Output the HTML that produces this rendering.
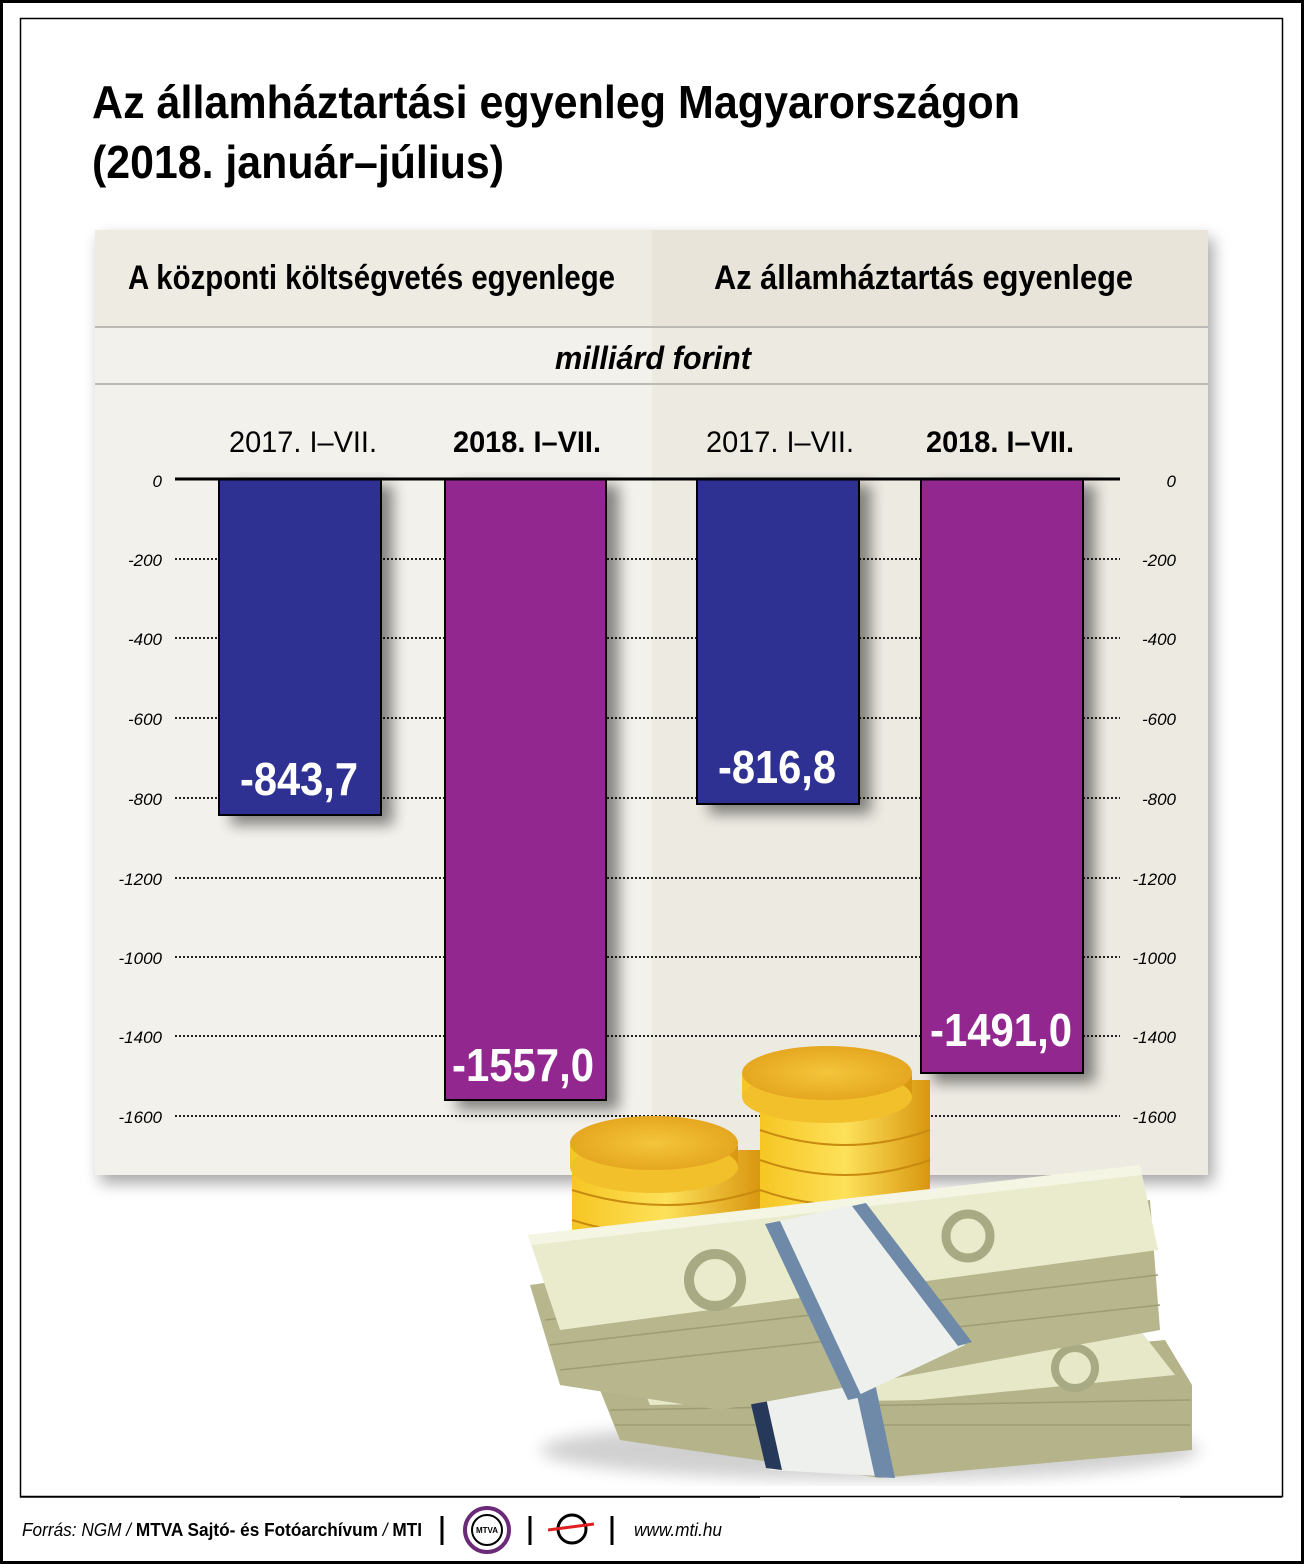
<!DOCTYPE html>
<html><head><meta charset="utf-8"><style>
html,body{margin:0;padding:0;background:#fff}
svg{display:block}
text{font-family:"Liberation Sans",Arial,sans-serif}
</style></head><body>
<svg width="1304" height="1564" viewBox="0 0 1304 1564" xmlns="http://www.w3.org/2000/svg">
<defs>
<filter id="sh" x="-10%" y="-10%" width="120%" height="120%"><feGaussianBlur stdDeviation="8"/></filter>
<filter id="bs" x="-30%" y="-10%" width="160%" height="130%"><feGaussianBlur stdDeviation="7"/></filter>
<linearGradient id="gold" x1="0" y1="0" x2="1" y2="0"><stop offset="0" stop-color="#f6c623"/><stop offset="0.5" stop-color="#fde15a"/><stop offset="1" stop-color="#d9960f"/></linearGradient>
<radialGradient id="gtop" cx="0.5" cy="0.5" r="0.6"><stop offset="0" stop-color="#f4c53a"/><stop offset="1" stop-color="#e2a11b"/></radialGradient>
</defs>
<rect x="1.5" y="1.5" width="1301" height="1561" fill="#fff" stroke="#000" stroke-width="3"/>
<rect x="20.5" y="18.5" width="1262" height="1478" fill="#fff" stroke="#000" stroke-width="1.5"/>
<text x="92" y="118" font-size="46" font-weight="bold" textLength="928" lengthAdjust="spacingAndGlyphs">Az államháztartási egyenleg Magyarországon</text>
<text x="92" y="178" font-size="46" font-weight="bold" textLength="412" lengthAdjust="spacingAndGlyphs">(2018. január–július)</text>
<rect x="100" y="238" width="1113" height="945" fill="#000" opacity="0.35" filter="url(#sh)"/>
<rect x="95" y="230" width="557" height="945" fill="#f3f1eb"/>
<rect x="652" y="230" width="556" height="945" fill="#edeae2"/>
<rect x="95" y="230" width="1113" height="97" fill="#eeebe3"/>
<rect x="652" y="230" width="556" height="97" fill="#e8e4da"/>
<line x1="95" y1="327" x2="1208" y2="327" stroke="#bcbab4" stroke-width="2"/>
<line x1="95" y1="384" x2="1208" y2="384" stroke="#bcbab4" stroke-width="2"/>
<text x="128" y="289" font-size="34" font-weight="bold" textLength="487" lengthAdjust="spacingAndGlyphs">A központi költségvetés egyenlege</text>
<text x="714" y="289" font-size="34" font-weight="bold" textLength="419" lengthAdjust="spacingAndGlyphs">Az államháztartás egyenlege</text>
<text x="555" y="369" font-size="32" font-weight="bold" font-style="italic" textLength="196" lengthAdjust="spacingAndGlyphs">milliárd forint</text>
<g font-size="30">
<text x="229" y="452" textLength="148" lengthAdjust="spacingAndGlyphs">2017. I–VII.</text>
<text x="453" y="452" font-weight="bold" textLength="148" lengthAdjust="spacingAndGlyphs">2018. I–VII.</text>
<text x="706" y="452" textLength="148" lengthAdjust="spacingAndGlyphs">2017. I–VII.</text>
<text x="926" y="452" font-weight="bold" textLength="148" lengthAdjust="spacingAndGlyphs">2018. I–VII.</text>
</g>
<g stroke="#222" stroke-width="2" stroke-dasharray="2,2">
<line x1="175" y1="559" x2="1120" y2="559"/><line x1="175" y1="638" x2="1120" y2="638"/>
<line x1="175" y1="718" x2="1120" y2="718"/><line x1="175" y1="798" x2="1120" y2="798"/>
<line x1="175" y1="878" x2="1120" y2="878"/><line x1="175" y1="957" x2="1120" y2="957"/>
<line x1="175" y1="1036" x2="1120" y2="1036"/><line x1="175" y1="1116" x2="1120" y2="1116"/>
</g>
<g font-size="17" font-style="italic" text-anchor="end">
<text x="162" y="487">0</text><text x="162" y="566">-200</text><text x="162" y="645">-400</text><text x="162" y="725">-600</text><text x="162" y="805">-800</text><text x="162" y="885">-1200</text><text x="162" y="964">-1000</text><text x="162" y="1043">-1400</text><text x="162" y="1123">-1600</text>
<text x="1176" y="487">0</text><text x="1176" y="566">-200</text><text x="1176" y="645">-400</text><text x="1176" y="725">-600</text><text x="1176" y="805">-800</text><text x="1176" y="885">-1200</text><text x="1176" y="964">-1000</text><text x="1176" y="1043">-1400</text><text x="1176" y="1123">-1600</text>
</g>
<g opacity="0.45" filter="url(#bs)" fill="#000">
<rect x="231" y="485" width="162" height="340"/><rect x="457" y="485" width="162" height="625"/>
<rect x="709" y="485" width="162" height="329"/><rect x="933" y="485" width="162" height="598"/>
</g>
<g stroke="#000" stroke-width="2">
<rect x="219" y="479" width="162" height="336" fill="#2e3192"/>
<rect x="445" y="479" width="161" height="621" fill="#92278f"/>
<rect x="697" y="479" width="162" height="325" fill="#2e3192"/>
<rect x="921" y="479" width="162" height="594" fill="#92278f"/>
</g>
<line x1="175" y1="479" x2="1120" y2="479" stroke="#000" stroke-width="3"/>
<g fill="#fff" font-size="46" font-weight="bold" text-anchor="middle">
<text x="299" y="795" textLength="118" lengthAdjust="spacingAndGlyphs">-843,7</text>
<text x="523" y="1081" textLength="142" lengthAdjust="spacingAndGlyphs">-1557,0</text>
<text x="777" y="783" textLength="118" lengthAdjust="spacingAndGlyphs">-816,8</text>
<text x="1001" y="1046" textLength="142" lengthAdjust="spacingAndGlyphs">-1491,0</text>
</g>
<!-- coins -->
<g>
<rect x="760" y="1080" width="170" height="170" fill="url(#gold)"/>
<ellipse cx="845" cy="1250" rx="85" ry="28" fill="#e8a81a"/>
<g fill="none" stroke="#c98a10" stroke-width="2"><path d="M760 1130 Q845 1160 930 1130"/><path d="M760 1160 Q845 1190 930 1160"/><path d="M760 1190 Q845 1220 930 1190"/><path d="M760 1220 Q845 1250 930 1220"/></g>
<rect x="742" y="1075" width="170" height="22" fill="url(#gold)"/>
<ellipse cx="827" cy="1097" rx="85" ry="26" fill="#f2c02b"/>
<ellipse cx="827" cy="1073" rx="85" ry="27" fill="url(#gtop)"/>
<rect x="572" y="1150" width="188" height="100" fill="url(#gold)"/>
<g fill="none" stroke="#c98a10" stroke-width="2"><path d="M572 1190 Q666 1220 760 1190"/><path d="M572 1220 Q666 1250 760 1220"/></g>
<rect x="570" y="1145" width="168" height="22" fill="url(#gold)"/>
<ellipse cx="654" cy="1167" rx="84" ry="26" fill="#f2c02b"/>
<ellipse cx="654" cy="1143" rx="84" ry="27" fill="url(#gtop)"/>
</g>
<!-- bills -->
<g>
<ellipse cx="870" cy="1450" rx="330" ry="30" fill="#000" opacity="0.18" filter="url(#sh)"/>
<!-- lower bundle -->
<polygon points="600,1390 1165,1340 1192,1385 1192,1450 880,1478 620,1440" fill="#b4b38a"/>
<g stroke="#9d9c74" stroke-width="1.5"><line x1="610" y1="1410" x2="1190" y2="1400"/><line x1="615" y1="1425" x2="1190" y2="1425"/></g>
<polygon points="640,1380 1140,1330 1175,1375 920,1400 650,1405" fill="#e6e8c8"/>
<circle cx="1075" cy="1368" r="20" fill="none" stroke="#a8aa84" stroke-width="8"/>
<polygon points="750,1400 860,1385 880,1476 770,1470" fill="#eef0ee"/>
<polygon points="750,1400 766,1398 782,1470 766,1468" fill="#27395a"/>
<polygon points="855,1386 875,1383 895,1478 875,1477" fill="#6f8aa8"/>
<!-- upper bundle -->
<polygon points="530,1285 1150,1200 1160,1330 720,1410 560,1385" fill="#b7b68c"/>
<g stroke="#9d9c74" stroke-width="1.5"><line x1="545" y1="1320" x2="1155" y2="1245"/><line x1="550" y1="1345" x2="1158" y2="1275"/><line x1="560" y1="1370" x2="1160" y2="1305"/></g>
<polygon points="528,1235 1140,1165 1158,1250 560,1330" fill="#e9ebcc"/>
<polygon points="528,1235 1140,1165 1142,1175 532,1245" fill="#f4f5e2"/>
<circle cx="715" cy="1280" r="26" fill="none" stroke="#a8aa84" stroke-width="10"/>
<circle cx="968" cy="1236" r="22" fill="none" stroke="#a8aa84" stroke-width="9"/>
<polygon points="765,1224 855,1205 965,1345 848,1400" fill="#eef0ee"/>
<polygon points="765,1224 780,1221 862,1397 848,1400" fill="#6f8aa8"/>
<polygon points="852,1206 866,1203 972,1342 958,1346" fill="#6f8aa8"/>
</g>
<line x1="20" y1="1497" x2="760" y2="1497" stroke="#000" stroke-width="1.5"/>
<line x1="1180" y1="1497" x2="1282" y2="1497" stroke="#000" stroke-width="1.5"/>
<text x="22" y="1536" font-size="18" textLength="400" lengthAdjust="spacingAndGlyphs"><tspan font-style="italic">Forrás: NGM / </tspan><tspan font-weight="bold">MTVA Sajtó- és Fotóarchívum</tspan><tspan font-style="italic"> / </tspan><tspan font-weight="bold">MTI</tspan></text>
<line x1="442" y1="1516" x2="442" y2="1545" stroke="#000" stroke-width="3"/>
<circle cx="487" cy="1530" r="22" fill="#fff" stroke="#6b2a78" stroke-width="4"/>
<circle cx="487" cy="1530" r="15" fill="#fff" stroke="#000" stroke-width="2"/>
<text x="487" y="1533" font-size="8" font-weight="bold" text-anchor="middle">MTVA</text>
<line x1="530" y1="1516" x2="530" y2="1545" stroke="#000" stroke-width="3"/>
<circle cx="572" cy="1529" r="14" fill="none" stroke="#000" stroke-width="3"/>
<line x1="548" y1="1530" x2="594" y2="1524" stroke="#e02020" stroke-width="3"/>
<line x1="612" y1="1516" x2="612" y2="1545" stroke="#000" stroke-width="3"/>
<text x="634" y="1536" font-size="18" font-style="italic" textLength="88" lengthAdjust="spacingAndGlyphs">www.mti.hu</text>
</svg>
</body></html>
